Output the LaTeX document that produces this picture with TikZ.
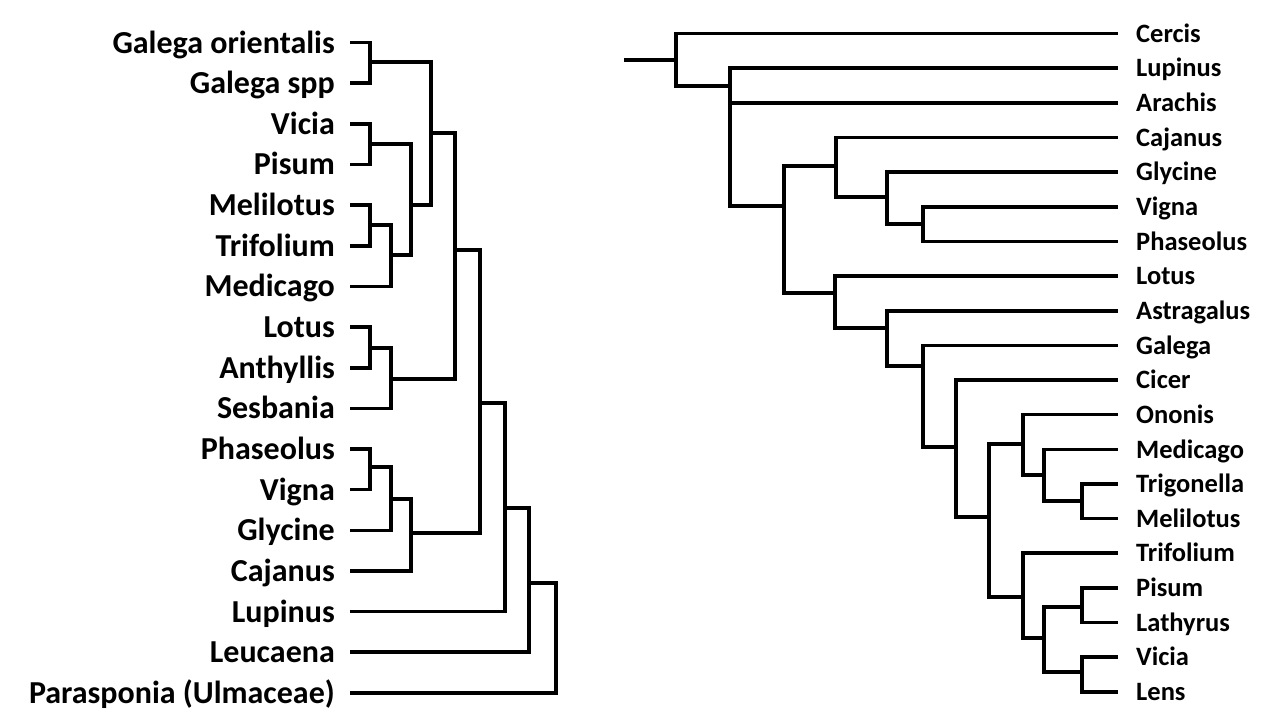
\documentclass[tikz,border=0pt]{standalone}
\usepackage{fontspec}
\setmainfont{Carlito}
\usetikzlibrary{positioning}

\begin{document}
\begin{tikzpicture}[x=1pt,y=-1pt,
  branch/.style={line width=3.6pt},
  lname/.style={font=\bfseries\fontsize{32}{32}\selectfont,inner sep=0pt,text height=24pt,text depth=3pt},
  rname/.style={font=\bfseries\fontsize{26.5}{26.5}\selectfont,inner sep=0pt,text height=20pt,text depth=2.6pt}]
  \useasboundingbox (0,0) rectangle (1280,720);

  % left tree
  \foreach \name [count=\i from 0] in {{Galega orientalis},{Galega spp},Vicia,Pisum,Melilotus,Trifolium,Medicago,Lotus,Anthyllis,Sesbania,Phaseolus,Vigna,Glycine,Cajanus,Lupinus,Leucaena,{Parasponia (Ulmaceae)}} {
    \coordinate (l\i) at (350,42.5+40.65*\i);
    \node[lname,left=15pt of l\i] (ln\i) {\name};
  }
  \coordinate (a1) at (370,62);
  \coordinate (a2) at (370,144);
  \coordinate (a3) at (370,225);
  \coordinate (a4) at (391,255);
  \coordinate (a5) at (411,205);
  \coordinate (a6) at (431,133);
  \coordinate (b1) at (370,348);
  \coordinate (b2) at (391,379);
  \coordinate (a7) at (455,250);
  \coordinate (c1) at (370,467);
  \coordinate (c2) at (391,499);
  \coordinate (c3) at (411,533);
  \coordinate (a8) at (480,403);
  \coordinate (a9) at (505,508);
  \coordinate (a10) at (529,583);
  \coordinate (a11) at (556,638);
  \draw[branch] (l0) -| (a1) |- (l1);
  \draw[branch] (l2) -| (a2) |- (l3);
  \draw[branch] (l4) -| (a3) |- (l5);
  \draw[branch] (a3) -| (a4) |- (l6);
  \draw[branch] (a2) -| (a5) |- (a4);
  \draw[branch] (a1) -| (a6) |- (a5);
  \draw[branch] (l7) -| (b1) |- (l8);
  \draw[branch] (b1) -| (b2) |- (l9);
  \draw[branch] (a6) -| (a7) |- (b2);
  \draw[branch] (l10) -| (c1) |- (l11);
  \draw[branch] (c1) -| (c2) |- (l12);
  \draw[branch] (c2) -| (c3) |- (l13);
  \draw[branch] (a7) -| (a8) |- (c3);
  \draw[branch] (a8) -| (a9) |- (l14);
  \draw[branch] (a9) -| (a10) |- (l15);
  \draw[branch] (a10) -| (a11) |- (l16);

  % right tree
  \foreach \name [count=\i from 0] in {Cercis,Lupinus,Arachis,Cajanus,Glycine,Vigna,Phaseolus,Lotus,Astragalus,Galega,Cicer,Ononis,Medicago,Trigonella,Melilotus,Trifolium,Pisum,Lathyrus,Vicia,Lens} {
    \coordinate (rt\i) at (1118,33.5+34.65*\i);
    \node[rname,right=18pt of rt\i] (rn\i) {\name};
  }
  \coordinate (stub) at (624,60);
  \coordinate (r1) at (676,60);
  \coordinate (r2) at (730,86);
  \coordinate (r3) at (784,206);
  \coordinate (r4) at (836,166);
  \coordinate (r5) at (887,197);
  \coordinate (r6) at (923,224);
  \coordinate (r7) at (835,293);
  \coordinate (r8) at (887,328);
  \coordinate (r9) at (923,366);
  \coordinate (r10) at (956,447);
  \coordinate (r11) at (989,517);
  \coordinate (r12) at (1023,444);
  \coordinate (r13) at (1044,475);
  \coordinate (r14) at (1082,501);
  \coordinate (r15) at (1023,597);
  \coordinate (r16) at (1044,638);
  \coordinate (r17) at (1082,607);
  \coordinate (r18) at (1082,672);
  \draw[branch] (stub) -- (r1);
  \draw[branch] (rt0) -| (r1) |- (r2);
  \draw[branch] (rt1) -| (r2) |- (r3);
  \draw[branch] (r2) |- (rt2);
  \draw[branch] (r4) -| (r3) |- (r7);
  \draw[branch] (rt3) -| (r4) |- (r5);
  \draw[branch] (rt4) -| (r5) |- (r6);
  \draw[branch] (rt5) -| (r6) |- (rt6);
  \draw[branch] (rt7) -| (r7) |- (r8);
  \draw[branch] (rt8) -| (r8) |- (r9);
  \draw[branch] (rt9) -| (r9) |- (r10);
  \draw[branch] (rt10) -| (r10) |- (r11);
  \draw[branch] (r12) -| (r11) |- (r15);
  \draw[branch] (rt11) -| (r12) |- (r13);
  \draw[branch] (rt12) -| (r13) |- (r14);
  \draw[branch] (rt13) -| (r14) |- (rt14);
  \draw[branch] (rt15) -| (r15) |- (r16);
  \draw[branch] (r17) -| (r16) |- (r18);
  \draw[branch] (rt16) -| (r17) |- (rt17);
  \draw[branch] (rt18) -| (r18) |- (rt19);
\end{tikzpicture}
\end{document}
